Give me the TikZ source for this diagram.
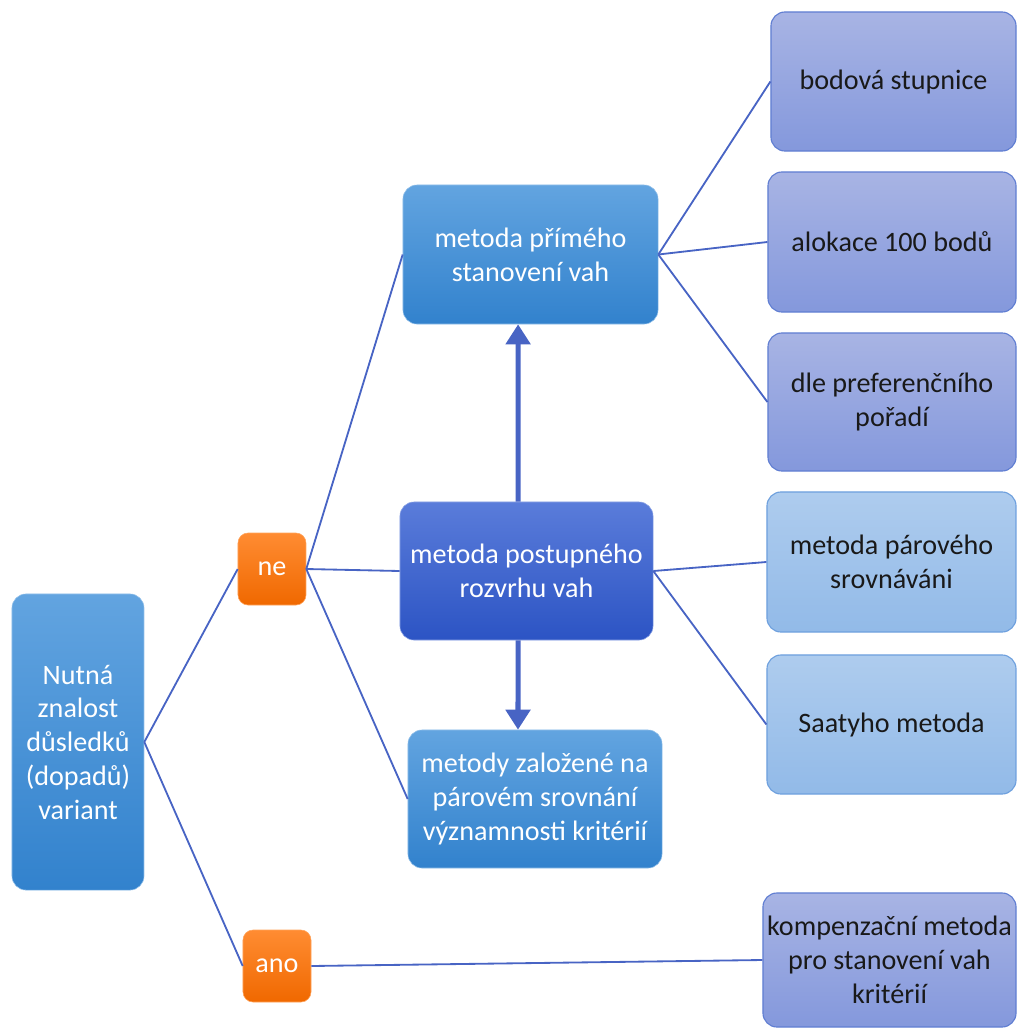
\documentclass[tikz,border=0pt]{standalone}
\usepackage{fontspec}
\setmainfont{Carlito}
\usetikzlibrary{arrows.meta,shadings}

\definecolor{bluetop}{RGB}{98,164,224}
\definecolor{bluebot}{RGB}{50,130,205}
\definecolor{darktop}{RGB}{90,124,218}
\definecolor{darkbot}{RGB}{44,84,196}
\definecolor{lavtop}{RGB}{168,180,228}
\definecolor{lavbot}{RGB}{132,152,220}
\definecolor{lavline}{RGB}{96,126,210}
\definecolor{skytop}{RGB}{174,204,238}
\definecolor{skybot}{RGB}{146,186,232}
\definecolor{skyline}{RGB}{110,160,222}
\definecolor{orangetop}{RGB}{255,140,50}
\definecolor{orangebot}{RGB}{240,104,0}
\definecolor{linkblue}{RGB}{72,100,196}

\tikzset{
  base/.style={rounded corners=0.35cm, align=center, inner sep=1pt,
    font=\fontsize{20}{24}\selectfont},
  bluebox/.style={base, top color=bluetop, bottom color=bluebot,
    draw=bluetop!70!white, text=white},
  darkbox/.style={base, top color=darktop, bottom color=darkbot,
    draw=darktop!70!white, text=white},
  lavbox/.style={base, top color=lavtop, bottom color=lavbot,
    draw=lavline, line width=0.8pt, text=black!90},
  skybox/.style={base, top color=skytop, bottom color=skybot,
    draw=skyline, line width=0.8pt, text=black!90},
  answer/.style={base, top color=orangetop, bottom color=orangebot,
    draw=orangetop!80!white, text=white, rounded corners=0.25cm,
    minimum width=1.7cm, minimum height=1.8cm},
  link/.style={draw=linkblue, line width=1.3pt},
  bigarrow/.style={draw=linkblue, line width=3.6pt,
    -{Triangle[width=0.6cm,length=0.5cm]}}
}

\begin{document}
\begin{tikzpicture}[x=0.025cm, y=-0.025cm]
  \useasboundingbox (0,0) rectangle (1018,1028);

  % left part
  \node[bluebox, minimum width=3.3cm, minimum height=7.4cm] (root) at (78,742)
    {Nutná\\znalost\\důsledků\\(dopadů)\\variant};
  \node[answer] (ne) at (272,569) {ne};
  \node[answer] (ano) at (277,966) {ano};

  % middle column
  \node[bluebox, minimum width=6.375cm, minimum height=3.475cm] (prime) at (530.5,254.5)
    {metoda přímého\\stanovení vah};
  \node[darkbox, minimum width=6.325cm, minimum height=3.45cm] (post) at (526.5,571)
    {metoda postupného\\rozvrhu vah};
  \node[bluebox, minimum width=6.35cm, minimum height=3.45cm] (pair) at (535,799)
    {metody založené na\\párovém srovnání\\významnosti kritérií};

  % right column
  \node[lavbox, minimum width=6.125cm, minimum height=3.475cm] (scale) at (893.5,81.5)
    {bodová stupnice};
  \node[lavbox, minimum width=6.2cm, minimum height=3.5cm] (alloc) at (892,242)
    {alokace 100 bodů};
  \node[lavbox, minimum width=6.2cm, minimum height=3.45cm] (order) at (892,402)
    {dle preferenčního\\pořadí};
  \node[skybox, minimum width=6.225cm, minimum height=3.5cm] (pairwise) at (891.5,562)
    {metoda párového\\srovnáváni};
  \node[skybox, minimum width=6.225cm, minimum height=3.475cm] (saaty) at (891.5,724.5)
    {Saatyho metoda};
  \node[lavbox, minimum width=6.325cm, minimum height=3.35cm] (comp) at (889.5,960)
    {kompenzační metoda\\pro stanovení vah\\kritérií};

  % connectors
  \draw[link] (root.east) -- (ne.west);
  \draw[link] (root.east) -- (ano.west);
  \draw[link] (ne.east) -- (prime.west);
  \draw[link] (ne.east) -- (post.west);
  \draw[link] (ne.east) -- (pair.west);
  \draw[link] (ano.east) -- (comp.west);
  \draw[link] (prime.east) -- (scale.west);
  \draw[link] (prime.east) -- (alloc.west);
  \draw[link] (prime.east) -- (order.west);
  \draw[link] (post.east) -- (pairwise.west);
  \draw[link] (post.east) -- (saaty.west);

  \draw[bigarrow] ([xshift=-0.21cm]post.north) -- ([xshift=-0.31cm]prime.south);
  \draw[bigarrow] ([xshift=-0.21cm]post.south) -- ([xshift=-0.425cm]pair.north);
\end{tikzpicture}
\end{document}
